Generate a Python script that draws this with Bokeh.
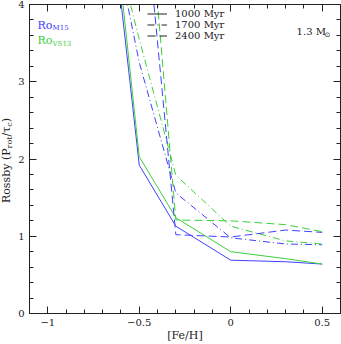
import numpy as np
from bokeh.plotting import figure
from bokeh.layouts import row
from bokeh.models import (Label, Legend, LegendItem, LinearAxis, FixedTicker, Range1d,
                          CustomJSTickFormatter)
from bokeh.embed import file_html
from bokeh.resources import INLINE

# ---- data ----
feh = [-1.0, -0.5, -0.3, 0.0, 0.3, 0.5]
ro_m15_1000 = [12.5, 1.92, 1.13, 0.69, 0.67, 0.64]
ro_vs13_1000 = [13.1, 2.03, 1.24, 0.80, 0.71, 0.64]
ro_m15_1700 = [9.1, 3.25, 1.56, 0.98, 0.90, 0.89]
ro_vs13_1700 = [8.2, 3.55, 1.79, 1.13, 0.94, 0.90]
ro_m15_2400 = [14.0, 6.0, 1.02, 0.99, 1.08, 1.05]
ro_vs13_2400 = [15.0, 6.8, 1.21, 1.20, 1.15, 1.06]
ages = ["1000 Myr", "1700 Myr", "2400 Myr"]
x_ticks = [-1.0, -0.5, 0.0, 0.5]
x_tick_labels = ["\u22121", "\u22120.5", "0", "0.5"]
y_ticks = [0, 1, 2, 3, 4]

BLUE = "#4040ff"
GREEN = "#3ccf3c"
INK = "#222222"
FONT = "DejaVu Serif"
dashes = ["solid", "7 3 1 3", "8 4"]

LW = 14  # width of the strip that holds the y-axis title
yr = Range1d(0, 4)
p = figure(width=341 - LW, height=344, x_range=Range1d(-1.1, 0.6), y_range=yr,
           output_backend="svg", toolbar_location=None,
           min_border_left=29 - LW, min_border_right=1, min_border_top=4, min_border_bottom=30)
p.grid.visible = False
p.outline_line_color = INK
p.background_fill_color = "white"

xt = FixedTicker(ticks=x_ticks, minor_ticks=[round(v, 1) for v in np.arange(-1.1, 0.61, 0.1)])
yt = FixedTicker(ticks=y_ticks, minor_ticks=[round(v, 1) for v in np.arange(0, 4.01, 0.2)])

def style(ax, labels=True):
    ax.major_tick_in = 7
    ax.major_tick_out = 0
    ax.minor_tick_in = 4
    ax.minor_tick_out = 0
    ax.axis_line_color = INK
    ax.major_tick_line_color = INK
    ax.minor_tick_line_color = INK
    ax.major_label_text_font = FONT
    ax.major_label_text_font_size = "10px"
    ax.major_label_text_color = INK
    ax.major_label_standoff = 5 if labels else 0
    if not labels:
        ax.formatter = CustomJSTickFormatter(code="return '';")

p.xaxis.ticker = xt
p.yaxis.ticker = yt
p.xaxis.major_label_overrides = {v: s for v, s in zip(x_ticks, x_tick_labels)}
style(p.xaxis[0])
style(p.yaxis[0])
p.xaxis.axis_label = "[Fe/H]"
p.xaxis.axis_label_text_font = FONT
p.xaxis.axis_label_text_font_size = "11px"
p.xaxis.axis_label_text_font_style = "normal"
p.xaxis.axis_label_text_color = INK
p.xaxis.axis_label_standoff = 0

top = LinearAxis(ticker=xt)
style(top, labels=False)
p.add_layout(top, "above")
right = LinearAxis(ticker=yt)
style(right, labels=False)
p.add_layout(right, "right")

series = [(ro_m15_1000, ro_vs13_1000), (ro_m15_1700, ro_vs13_1700), (ro_m15_2400, ro_vs13_2400)]
for (b, g), d in zip(series, dashes):
    p.line(feh, b, line_color=BLUE, line_width=1, line_dash=d)
    p.line(feh, g, line_color=GREEN, line_width=1, line_dash=d)

items = []
for a, d in zip(ages, dashes):
    r = p.line(x=[np.nan], y=[np.nan], line_color=INK, line_width=1, line_dash=d)
    items.append(LegendItem(label=a, renderers=[r]))
leg = Legend(items=items, location=(118, 272), background_fill_alpha=0, border_line_alpha=0,
             label_text_font=FONT, label_text_font_size="10px", label_height=11, glyph_height=11,
             glyph_width=20, spacing=0, padding=0, margin=0, label_standoff=8,
             label_text_baseline="middle", label_text_color=INK)
p.add_layout(leg)

# Ro labels
for txt, sub, col, yy in [("Ro", "M15", BLUE, 3.73), ("Ro", "VS13", GREEN, 3.53)]:
    p.add_layout(Label(x=-1.056, y=yy, text=txt, text_color=col, text_font=FONT,
                       text_font_size="11px", text_baseline="middle"))
    p.add_layout(Label(x=-1.056, y=yy, x_offset=15, y_offset=-3, text=sub, text_color=col,
                       text_font=FONT, text_font_size="7px", text_baseline="middle"))

p.add_layout(Label(x=0.36, y=3.65, text="1.3 M", text_font=FONT, text_font_size="10px",
                   text_baseline="middle", text_color=INK))
p.add_layout(Label(x=0.36, y=3.65, x_offset=28, y_offset=-3, text="\u2299", text_font="DejaVu Sans",
                   text_font_size="7px", text_baseline="middle", text_color=INK))

# strip holding the y-axis title (reading bottom to top)
lab = figure(width=LW, height=344, x_range=Range1d(0, 1), y_range=yr,
             output_backend="svg", toolbar_location=None, x_axis_type=None, y_axis_type=None,
             min_border_left=0, min_border_right=0, min_border_top=4, min_border_bottom=30)
lab.grid.visible = False
lab.outline_line_color = None
pieces = [("Rossby (P", 11, 0, 0), ("rot", 8, 54.6, 3), ("/\u03c4", 11, 66.5, 0),
          ("c", 8, 76.3, 3), (")", 11, 80.8, 0)]
for txt, fs, off, sub in pieces:
    lab.add_layout(Label(x=0.45, y=1.43, x_offset=sub, y_offset=off, angle=np.pi / 2,
                         text=txt, text_font=FONT, text_font_size=f"{fs}px", text_baseline="middle",
                         text_align="left", text_color=INK))

layout = row(lab, p, spacing=0)
open("out.html", "w").write(file_html(layout, INLINE))
